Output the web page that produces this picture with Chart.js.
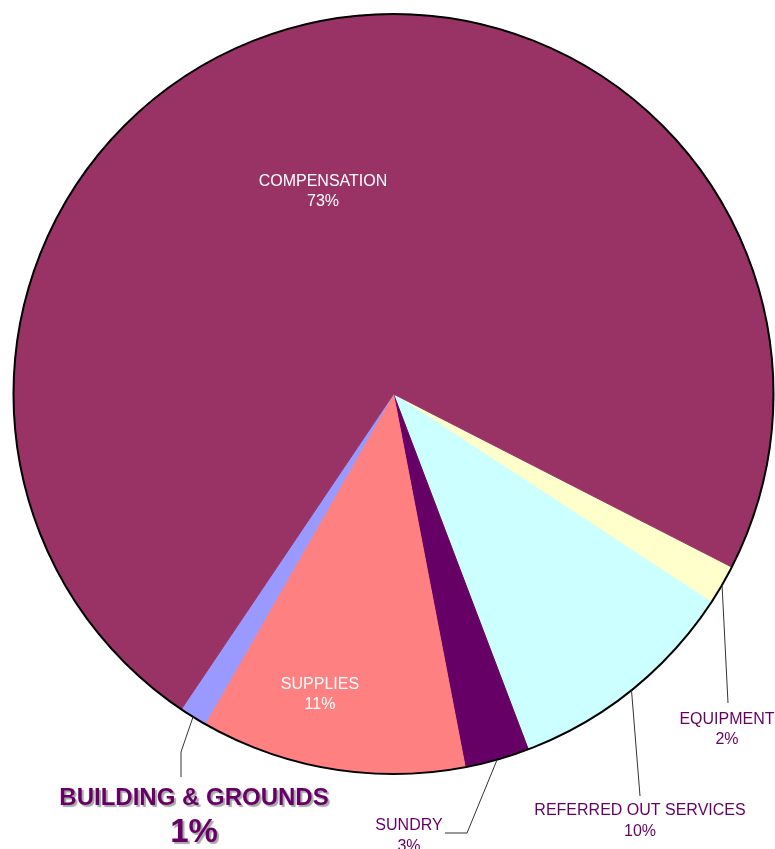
<!DOCTYPE html>
<html>
<head>
<meta charset="utf-8">
<script src="https://cdn.jsdelivr.net/npm/chart.js@4.4.0/dist/chart.umd.min.js"></script>
<style>
  html, body { margin: 0; padding: 0; background: #fff; overflow: hidden; }
</style>
</head>
<body>
<canvas id="pie" width="775" height="849"></canvas>
<script>
// slice order follows the chart clockwise, starting just below 3 o'clock
const categories = ["EQUIPMENT", "REFERRED OUT SERVICES", "SUNDRY", "SUPPLIES", "BUILDING & GROUNDS", "COMPENSATION"];
const shares = [1.7, 10.0, 2.75, 11.28, 1.17, 73.1];
const sliceColors = ["#FFFFCC", "#CCFFFF", "#660066", "#FF8080", "#9999FF", "#993366"];

const FONT = "'Liberation Sans', Arial, sans-serif";
const LABEL_PURPLE = "#660066";

// where each label goes; leader lines start at the arc edge (mid angle)
const labelLayout = [
    { leader: [[728, 703]], lines: [[727, 720], [727, 740]], size: [16, 16], color: LABEL_PURPLE },
    { leader: [[640, 796]], lines: [[640, 811], [640, 832]], size: [16, 16], color: LABEL_PURPLE },
    { leader: [[467, 833], [445, 833]], lines: [[409, 826], [409, 847]], size: [16, 16], color: LABEL_PURPLE },
    { leader: null, lines: [[320, 685], [320, 705]], size: [16, 16], color: "#ffffff" },
    { leader: [[181, 752], [181, 777]], lines: [[194, 798], [194, 833]], size: [24, 33], color: LABEL_PURPLE, bold: true, shadow: true },
    { leader: null, lines: [[323, 182], [323, 202]], size: [16, 16], color: "#ffffff" },
];

const pieLabels = {
    id: "pieLabels",
    afterDatasetsDraw(chart) {
        const ctx = chart.ctx;
        const meta = chart.getDatasetMeta(0);
        const total = shares.reduce((a, b) => a + b, 0);

        // outer outline only, slices have no borders between them
        const first = meta.data[0];
        ctx.save();
        ctx.beginPath();
        ctx.arc(first.x, first.y, first.outerRadius, 0, Math.PI * 2);
        ctx.lineWidth = 2;
        ctx.strokeStyle = "#000";
        ctx.stroke();
        ctx.restore();

        meta.data.forEach((arc, i) => {
            const cfg = labelLayout[i];
            if (cfg.leader) {
                const mid = (arc.startAngle + arc.endAngle) / 2;
                ctx.save();
                ctx.beginPath();
                ctx.moveTo(arc.x + Math.cos(mid) * arc.outerRadius, arc.y + Math.sin(mid) * arc.outerRadius);
                cfg.leader.forEach(p => ctx.lineTo(p[0], p[1]));
                ctx.lineWidth = 1;
                ctx.strokeStyle = "#333";
                ctx.stroke();
                ctx.restore();
            }

            const texts = [categories[i], Math.round(shares[i] / total * 100) + "%"];
            texts.forEach((t, k) => {
                ctx.save();
                ctx.font = (cfg.bold ? "bold " : "") + cfg.size[k] + "px " + FONT;
                ctx.textAlign = "center";
                ctx.textBaseline = "middle";
                if (cfg.shadow) {
                    ctx.shadowColor = "rgba(0,0,0,0.35)";
                    ctx.shadowOffsetX = 2;
                    ctx.shadowOffsetY = 2;
                    ctx.shadowBlur = 1;
                }
                ctx.fillStyle = cfg.color;
                ctx.fillText(t, cfg.lines[k][0], cfg.lines[k][1]);
                ctx.restore();
            });
        });
    }
};

new Chart(document.getElementById("pie"), {
    type: "pie",
    data: {
        labels: categories,
        datasets: [{
            data: shares,
            backgroundColor: sliceColors,
            borderColor: sliceColors,
            borderWidth: 1,
        }]
    },
    options: {
        responsive: false,
        animation: false,
        rotation: 117.1,
        layout: {
            padding: { left: 13, right: 1, top: 13.5, bottom: 74.5 }
        },
        plugins: {
            legend: { display: false },
            tooltip: { enabled: false },
        }
    },
    plugins: [pieLabels]
});
</script>
</body>
</html>
